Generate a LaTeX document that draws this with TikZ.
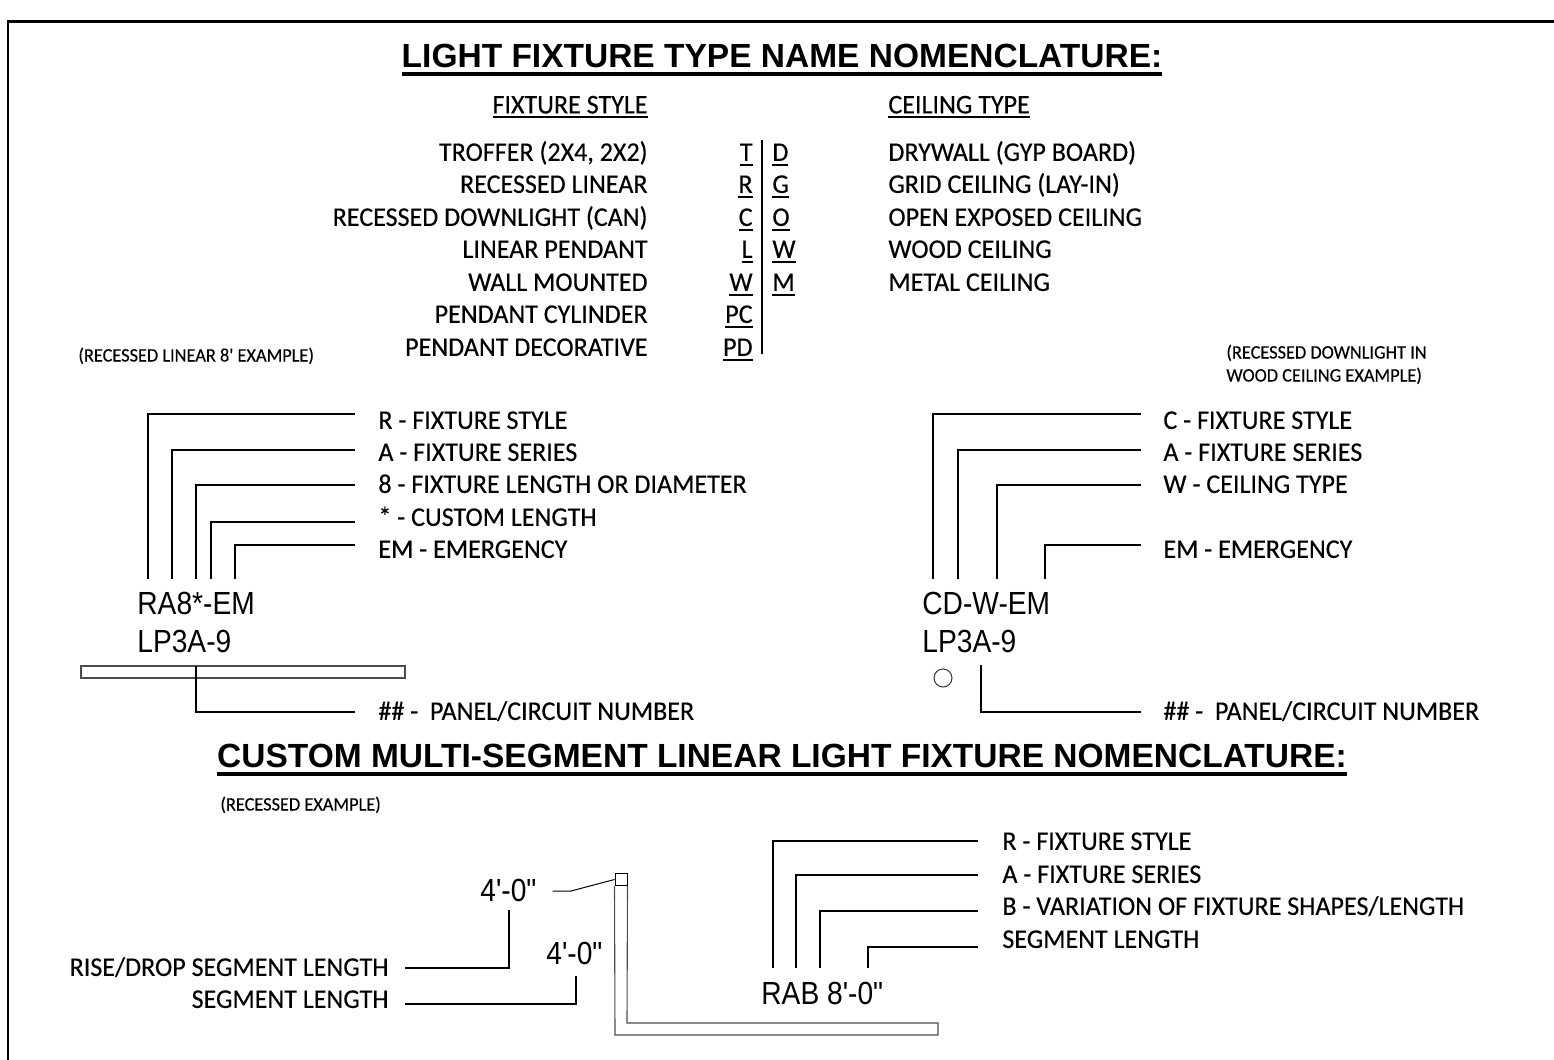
\documentclass[tikz,border=0pt]{standalone}
\usepackage{fontspec}
\newfontfamily\headfont{Liberation Sans}
\newfontfamily\codefont[FakeStretch=0.88]{Liberation Sans}
\newfontfamily\cadfont[FakeStretch=0.965,FakeBold=0.3]{Carlito}
\newcommand{\ulword}[3]{\setbox0=\hbox{#3}\rlap{\copy0}\raisebox{-#1}{\rule{\wd0}{#2}}}
\tikzset{
    cadtext/.style={inner sep=0pt,text depth=0pt,text height=7.9pt,font=\cadfont\fontsize{13.5}{13.5}\selectfont},
    cadnote/.style={inner sep=0pt,text depth=0pt,text height=5.5pt,anchor=west,font=\cadfont\fontsize{9.5}{9.5}\selectfont},
    codetext/.style={inner sep=0pt,text depth=0pt,text height=11.5pt,anchor=west,font=\codefont\fontsize{16}{16}\selectfont},
    headtext/.style={inner sep=0pt,text depth=0pt,text height=11.5pt,font=\headfont\bfseries\fontsize{16.75}{16.75}\selectfont},
    leader/.style={line width=1.2pt},
    fixture/.style={line width=0.55pt,draw=black!70}
}
\begin{document}
\begin{tikzpicture}[x=0.5pt,y=-0.5pt]
    \useasboundingbox (0,0) rectangle (1554,1060);
    % sheet border
    \draw [line width=1.2pt] (8,1060) -- (8,21.5) -- (1554,21.5);
    % headings
    \node [headtext] (toptitle) at (782,55.5) {\ulword{4.3pt}{2pt}{LIGHT FIXTURE TYPE NAME NOMENCLATURE:}};
    \node [headtext] (segtitle) at (782,755.5) {\ulword{4.3pt}{2pt}{CUSTOM MULTI-SEGMENT LINEAR LIGHT FIXTURE NOMENCLATURE:}};
    % legend
    \node [cadtext,anchor=east] (stylehead) at (648,105.5) {\ulword{2.4pt}{1pt}{FIXTURE STYLE}};
    \node [cadtext,anchor=west] (ceilhead) at (888,105.5) {\ulword{2.4pt}{1pt}{CEILING TYPE}};
    \foreach \n/\y/\s/\k in {a/153/{TROFFER (2X4, 2X2)}/T,b/185/{RECESSED LINEAR}/R,c/218/{RECESSED DOWNLIGHT (CAN)}/C,d/250/{LINEAR PENDANT}/L,e/283/{WALL MOUNTED}/W,f/315/{PENDANT CYLINDER}/PC,g/348/{PENDANT DECORATIVE}/PD} {
        \node [cadtext,anchor=east] (style\n) at (648,\y) {\s};
        \node [cadtext,anchor=east] (key\n) at (753,\y) {\ulword{2.4pt}{1pt}{\k}};
    }
    \foreach \n/\y/\s/\k in {a/153/{DRYWALL (GYP BOARD)}/D,b/185/{GRID CEILING (LAY-IN)}/G,c/218/{OPEN EXPOSED CEILING}/O,d/250/{WOOD CEILING}/W,e/283/{METAL CEILING}/M} {
        \node [cadtext,anchor=west] (ceilkey\n) at (772,\y) {\ulword{2.4pt}{1pt}{\k}};
        \node [cadtext,anchor=west] (ceil\n) at (888,\y) {\s};
    }
    \coordinate (divtop) at (762,140);
    \coordinate (divbot) at (762,354);
    \draw [leader] (divtop) -- (divbot);
    % notes
    \node [cadnote] (leftnote) at (78,356) {(RECESSED LINEAR 8' EXAMPLE)};
    \node [cadnote] (rightnotea) at (1226,353) {(RECESSED DOWNLIGHT IN};
    \node [cadnote] (rightnoteb) at (1226,376) {WOOD CEILING EXAMPLE)};
    \node [cadnote] (segnote) at (220,805) {(RECESSED EXAMPLE)};
    % linear example
    \node [codetext] (racode) at (137,603) {RA8*-EM};
    \node [codetext] (racircuit) at (137,641) {LP3A-9};
    \foreach \n/\y/\d/\x/\s in {a/421/-7/148/{R - FIXTURE STYLE},b/453/-3/172/{A - FIXTURE SERIES},c/485/0/196/{8 - FIXTURE LENGTH OR DIAMETER},d/518/4/211/{* - CUSTOM LENGTH},e/550/-5/235/{EM - EMERGENCY}} {
        \node [cadtext,anchor=west] (ra\n) at (378,\y) {\s};
        \coordinate (racode\n) at (\x,579);
        \draw [leader] ([shift={(-23,\d)}]ra\n.west) -| (racode\n);
    }
    \node [cadtext,anchor=west] (raline) at (378,712) {\#\# -\ \ PANEL/CIRCUIT NUMBER};
    \node [fixture,draw,inner sep=0pt,minimum width=162pt,minimum height=6pt] (rafix) at (243,672) {};
    \coordinate (rafixtop) at (196,666);
    \draw [leader] ([xshift=-11.5pt]raline.west) -| (rafixtop);
    % downlight example
    \node [codetext] (cdcode) at (922,603) {CD-W-EM};
    \node [codetext] (cdcircuit) at (922,641) {LP3A-9};
    \foreach \n/\y/\d/\x/\s in {a/421/-7/933/{C - FIXTURE STYLE},b/453/-3/958/{A - FIXTURE SERIES},c/485/0/997/{W - CEILING TYPE},e/550/-5/1045/{EM - EMERGENCY}} {
        \node [cadtext,anchor=west] (cd\n) at (1163,\y) {\s};
        \coordinate (cdcode\n) at (\x,579);
        \draw [leader] ([shift={(-22,\d)}]cd\n.west) -| (cdcode\n);
    }
    \node [cadtext,anchor=west] (cdline) at (1163,712) {\#\# -\ \ PANEL/CIRCUIT NUMBER};
    \node [circle,draw=black!80,line width=0.5pt,inner sep=0pt,minimum size=9pt] (cdfix) at (943,678) {};
    \coordinate (cdfixtop) at (981,665);
    \draw [leader] ([xshift=-11pt]cdline.west) -| (cdfixtop);
    % segment example
    \node [codetext] (rabcode) at (761,993) {RAB 8'-0"};
    \foreach \n/\y/\d/\x/\s in {a/842/-1/773/{R - FIXTURE STYLE},b/875/0/796/{A - FIXTURE SERIES},c/907/4/820/{B - VARIATION OF FIXTURE SHAPES/LENGTH},d/940/7/868/{SEGMENT LENGTH}} {
        \node [cadtext,anchor=west] (rab\n) at (1002,\y) {\s};
        \coordinate (rabcode\n) at (\x,968);
        \draw [leader] ([shift={(-24,\d)}]rab\n.west) -| (rabcode\n);
    }
    \node [codetext] (risedim) at (480,890) {4'-0"};
    \node [codetext] (rundim) at (546,953) {4'-0"};
    \node [cadtext,anchor=east] (riselabel) at (389,968) {RISE/DROP SEGMENT LENGTH};
    \node [cadtext,anchor=east] (runlabel) at (389,1000) {SEGMENT LENGTH};
    \coordinate (risetop) at (509,910);
    \coordinate (runtop) at (576,976);
    \draw [leader] ([xshift=8pt]riselabel.east) -| (risetop);
    \draw [leader] ([shift={(16,4)}]runlabel.east) -| (runtop);
    % riser and run
    \node [draw=black,line width=0.5pt,inner sep=0pt,minimum size=6pt] (riser) at (621,879.5) {};
    \coordinate (dimend) at (552.5,891);
    \coordinate (dimbend) at (571,891);
    \draw [line width=0.5pt] (dimend) -- (dimbend) -- (riser.west);
    \draw [fixture] (riser.south west) -- (615,1035) -- (938,1035) -- (938,1023) -- (627,1023) -- (riser.south east);
\end{tikzpicture}
\end{document}
